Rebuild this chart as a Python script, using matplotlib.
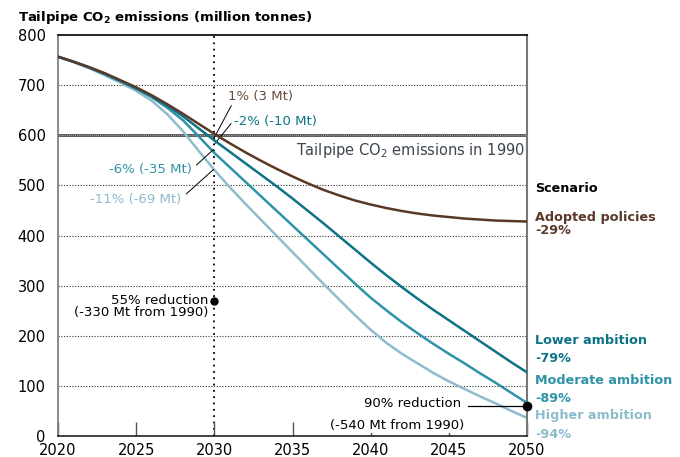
import matplotlib.pyplot as plt

plt.rcParams['font.family'] = ['DejaVu Sans']
plt.rcParams['mathtext.default'] = 'regular'

years = list(range(2020, 2051))

adopted = [757, 747, 736, 724, 710, 696, 680, 662, 643, 623, 603,
           584, 566, 549, 533, 518, 504, 491, 480, 470, 462,
           455, 449, 444, 440, 437, 434, 432, 430, 429, 428]
lower = [757, 747, 736, 723, 709, 694, 678, 659, 638, 614, 590,
         567, 544, 521, 498, 474, 449, 424, 398, 372, 346,
         321, 297, 274, 252, 231, 210, 189, 168, 147, 127]
moderate = [757, 747, 735, 722, 708, 693, 676, 655, 630, 598, 565,
            536, 507, 478, 449, 420, 391, 362, 333, 304, 276,
            251, 227, 205, 184, 164, 145, 125, 106, 86, 66]
higher = [757, 746, 734, 720, 705, 689, 669, 642, 608, 569, 531,
          496, 463, 431, 399, 367, 335, 303, 272, 241, 212,
          186, 164, 145, 126, 109, 94, 79, 65, 50, 36]

scenarios = ['Adopted policies', 'Lower ambition', 'Moderate ambition', 'Higher ambition']
changes_2050 = ['-29%', '-79%', '-89%', '-94%']
changes_2030 = ['1% (3 Mt)', '-2% (-10 Mt)', '-6% (-35 Mt)', '-11% (-69 Mt)']
colors = ['#5a3828', '#0e7386', '#2e93a8', '#8dbccc']

emissions_1990 = 600
target_2030 = 270
target_2050 = 60

fig = plt.figure(figsize=(6.8, 4.57), dpi=100)
ax = fig.add_axes([0.0853, 0.046, 0.6897, 0.877])

# dotted gridlines, 1990 level as a solid grey line
for v in range(100, 800, 100):
    if v == emissions_1990:
        continue
    ax.axhline(v, color='#333333', lw=0.8, ls=(0, (1, 1.5)), zorder=1)
ax.axhline(emissions_1990, color='#4a4f55', lw=2.0, zorder=1)
ax.axhline(emissions_1990, color='#d0d0d0', lw=0.6, ls=(0, (1, 1.5)), zorder=1.1)
ax.axvline(2030, color='black', lw=1.3, ls=(0, (1, 2.5)), zorder=1)

# scenario lines, adopted policies on top
for vals, c, z in zip([higher, moderate, lower, adopted], colors[::-1], [2, 3, 4, 5]):
    ax.plot(years, vals, color=c, lw=1.8, zorder=z)

ax.text(2049.9, 588, 'Tailpipe CO$_2$ emissions in 1990', ha='right', va='top',
        fontsize=10.5, color='#3d4650')

# 2030 annotations
ann_fs = 9.5
ax.annotate(changes_2030[0], xy=(2029.95, 593), xytext=(2030.85, 678),
            fontsize=ann_fs, color='#6b4a3c', va='center', ha='left',
            arrowprops=dict(arrowstyle='-', color='black', lw=0.7, shrinkA=0, shrinkB=0,
                            relpos=(0.08, 0)))
ax.annotate(changes_2030[1], xy=(2030.05, 584), xytext=(2031.25, 628),
            fontsize=ann_fs, color=colors[1], va='center', ha='left',
            arrowprops=dict(arrowstyle='-', color='black', lw=0.7, shrinkA=0, shrinkB=0,
                            relpos=(0, 0.6)))
ax.annotate(changes_2030[2], xy=(2029.95, 572), xytext=(2028.55, 532),
            fontsize=ann_fs, color=colors[2], va='center', ha='right',
            arrowprops=dict(arrowstyle='-', color='black', lw=0.7, shrinkA=2, shrinkB=0,
                            relpos=(1, 0.5)))
ax.annotate(changes_2030[3], xy=(2029.95, 532), xytext=(2027.9, 472),
            fontsize=ann_fs, color=colors[3], va='center', ha='right',
            arrowprops=dict(arrowstyle='-', color='black', lw=0.7, shrinkA=2, shrinkB=0,
                            relpos=(1, 0.6)))

# reduction targets
ax.plot([2030], [target_2030], 'o', color='black', ms=5, zorder=6, clip_on=False)
ax.text(2029.6, 270, '55% reduction', ha='right', va='center', fontsize=ann_fs)
ax.text(2029.6, 246, '(-330 Mt from 1990)', ha='right', va='center', fontsize=ann_fs)

ax.plot([2046.2, 2050], [target_2050, target_2050], color='black', lw=0.9, zorder=6)
ax.plot([2050], [target_2050], 'o', color='black', ms=6, zorder=7, clip_on=False)
ax.text(2045.8, 64, '90% reduction', ha='right', va='center', fontsize=ann_fs)
ax.text(2046.0, 20, '(-540 Mt from 1990)', ha='right', va='center', fontsize=ann_fs,
        zorder=6, bbox=dict(facecolor='white', edgecolor='none', pad=0.5))

ax.set_xlim(2020, 2050)
ax.set_ylim(0, 800)
ax.set_xticks([2020, 2025, 2030, 2035, 2040, 2045, 2050])
ax.set_yticks(range(0, 900, 100))
ax.tick_params(axis='x', direction='in', length=10, width=1, color='#555555',
               labelsize=10.5, pad=5)
ax.tick_params(axis='y', length=0, labelsize=10.5, pad=9)
for t in ax.xaxis.get_major_ticks():
    if t.get_loc() in (2020, 2030, 2050):
        t.tick1line.set_visible(False)

ax.spines['top'].set_color('black')
ax.spines['top'].set_linewidth(1.2)
ax.spines['bottom'].set_color('#222222')
ax.spines['bottom'].set_linewidth(1.2)
ax.spines['left'].set_color('#777777')
ax.spines['left'].set_linewidth(1.2)
ax.spines['right'].set_color('#777777')
ax.spines['right'].set_linewidth(1.5)

fig.text(18 / 680, 0.962, 'Tailpipe CO$_2$ emissions (million tonnes)', fontsize=9.5,
         fontweight='bold', va='center', ha='left')

# scenario labels to the right of the plot
lab_fs = 9.2
fig.text(0.787, (457 - 189) / 457, 'Scenario', fontsize=lab_fs, fontweight='bold',
         va='center', ha='left')
label_y = [(218, 231), (341, 359), (380, 398), (416, 434)]
for name, chg, c, (y1, y2) in zip(scenarios, changes_2050, colors, label_y):
    fig.text(0.787, (457 - y1) / 457, name, fontsize=lab_fs, fontweight='bold',
             color=c, va='center', ha='left')
    fig.text(0.787, (457 - y2) / 457, chg, fontsize=lab_fs, fontweight='bold',
             color=c, va='center', ha='left')

fig.savefig('out.png', dpi=100)
